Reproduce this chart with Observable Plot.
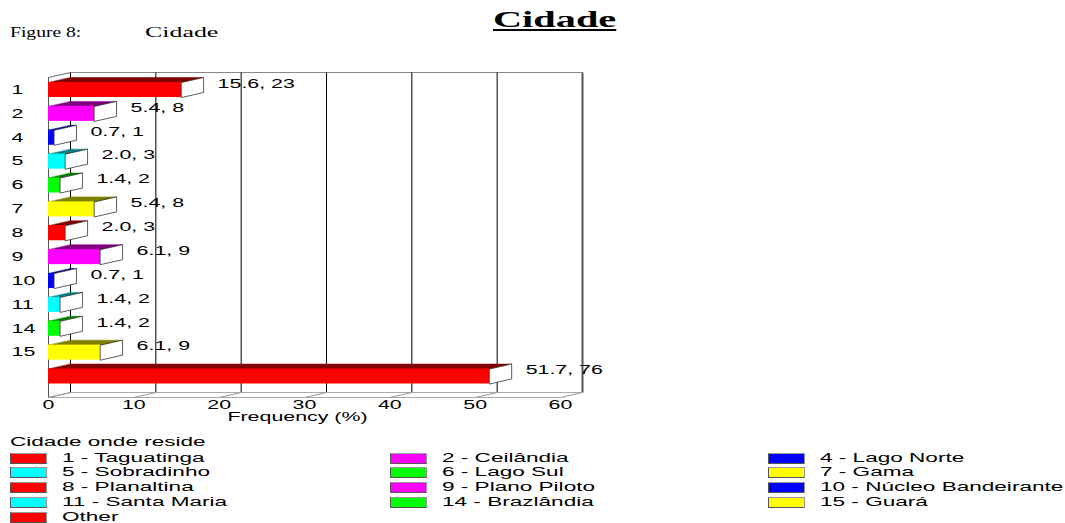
<!DOCTYPE html>
<html><head><meta charset="utf-8">
<script src="https://cdn.jsdelivr.net/npm/d3@7"></script>
<script src="https://cdn.jsdelivr.net/npm/@observablehq/plot@0.6"></script>
<style>
body{margin:0;background:#fff;}
#wrap{position:relative;width:1065px;height:523px;overflow:hidden;font-family:"Liberation Sans",Arial,sans-serif;color:#000;}
.abs{position:absolute;white-space:nowrap;}
.st{display:inline-block;transform-origin:0 50%;line-height:inherit;vertical-align:top;}
.sw{position:absolute;width:37px;height:11px;box-sizing:border-box;border:1px solid #555;border-top-color:#999;border-right-color:#999;}
#chart{position:absolute;left:0;top:40px;}
</style></head><body><div id="wrap"></div>
<script>
// ---- data ----
const categories = ["1","2","4","5","6","7","8","9","10","11","14","15","Other"];
const axisLabels = ["1","2","4","5","6","7","8","9","10","11","14","15",""];
const legendNames = ["1 - Taguatinga","2 - Ceilândia","4 - Lago Norte","5 - Sobradinho","6 - Lago Sul","7 - Gama","8 - Planaltina","9 - Plano Piloto","10 - Núcleo Bandeirante","11 - Santa Maria","14 - Brazlândia","15 - Guará","Other"];
const percents = [15.6,5.4,0.7,2.0,1.4,5.4,2.0,6.1,0.7,1.4,1.4,6.1,51.7];
const counts = [23,8,1,3,2,8,3,9,1,2,2,9,76];
const frontColors = ["#ff0000","#ff00ff","#0000ff","#00ffff","#00ff00","#ffff00","#ff0000","#ff00ff","#0000ff","#00ffff","#00ff00","#ffff00","#ff0000"];
const topColors = ["#800000","#800080","#000080","#008080","#008000","#808000","#800000","#800080","#000080","#008080","#008000","#808000","#800000"];
const xTicks = [0,10,20,30,40,50,60];
const xLabel = "Frequency (%)";
const titleText = "Cidade";
const figureLabel = "Figure 8:";
const legendTitle = "Cidade onde reside";

// ---- layout ----
const W = 1065, H = 390;
const mL = 48, mR = 505, mT = 49.5, mB = 54;
const ppx = (W - mL - mR) / 60;
const ppy = (H - mT - mB) / (categories.length - 1);
const DX = 22 / ppx, DY = -5 / ppy, H2 = 7.5 / ppy;
const fT = -12.5 / ppy, fB = 307.5 / ppy; // frame top / bottom (front) in y units
const idx = categories.map((_, i) => i);
const xMax = xTicks[xTicks.length - 1];

const segs = [];
segs.push({x1: DX, y1: fT + DY, x2: xMax + DX, y2: fT + DY, s: "#888", w: 1});
xTicks.forEach(t => segs.push({x1: t + DX, y1: fT + DY, x2: t + DX, y2: fB + DY, s: t === xMax ? "#555" : "#000", w: t === xMax ? 2 : 1}));
segs.push({x1: 0, y1: fT, x2: DX, y2: fT + DY, s: "#666", w: 1});
segs.push({x1: 0, y1: fT, x2: 0, y2: fB, s: "#555", w: 1});
segs.push({x1: 0, y1: fB, x2: DX, y2: fB + DY, s: "#999", w: 1});
segs.push({x1: DX, y1: fB + DY, x2: xMax + DX, y2: fB + DY, s: "#aaa", w: 1});
segs.push({x1: 0, y1: fB, x2: xMax, y2: fB, s: "#aaa", w: 1});
xTicks.forEach(t => segs.push({x1: t, y1: fB, x2: t + DX, y2: fB + DY, s: "#999", w: 1}));

const topFaces = [], sideFaces = [];
idx.forEach(i => {
  const v = percents[i], y0 = i - H2, y1 = i + H2;
  [[0, y0], [v, y0], [v + DX, y0 + DY], [DX, y0 + DY]].forEach(([x, y]) => topFaces.push({i, x, y}));
  [[v, y0], [v + DX, y0 + DY], [v + DX, y1 + DY], [v, y1]].forEach(([x, y]) => sideFaces.push({i, x, y}));
});

const plot = Plot.plot({
  width: W, height: H,
  marginLeft: mL, marginRight: mR, marginTop: mT, marginBottom: mB,
  style: {fontFamily: "'Liberation Sans', Arial, sans-serif", fontSize: "12px", color: "#000", background: "transparent", overflow: "visible"},
  x: {domain: [0, xMax], axis: null},
  y: {domain: [0, categories.length - 1], reverse: true, axis: null},
  color: {type: "identity"},
  marks: [
    Plot.rect([0], {x1: DX, x2: xMax + DX, y1: fT + DY, y2: fB + DY, fill: "#fff"}),
    Plot.link(segs, {x1: "x1", y1: "y1", x2: "x2", y2: "y2", stroke: "s", strokeWidth: "w"}),
    Plot.line(topFaces, {x: "x", y: "y", z: "i", fill: d => topColors[d.i], stroke: d => topColors[d.i], strokeWidth: 0.5, curve: "linear-closed"}),
    Plot.rect(idx, {x1: 0, x2: i => percents[i], y1: i => i - H2, y2: i => i + H2, fill: i => frontColors[i]}),
    Plot.line(sideFaces, {x: "x", y: "y", z: "i", fill: "#fff", stroke: "#333", strokeWidth: 0.8, curve: "linear-closed"}),
    Plot.text(idx, {x: i => percents[i] + DX, y: i => i, text: i => `${percents[i].toFixed(1)}, ${counts[i]}`, dx: 14, dy: -6, textAnchor: "start", fontSize: 12, fill: "#000"}),
    Plot.text(idx, {y: i => i, text: i => axisLabels[i], frameAnchor: "left", dx: -37, textAnchor: "start", fontSize: 12, fill: "#000"}),
    Plot.text(xTicks, {x: d => d, text: d => String(d), frameAnchor: "bottom", dy: 29, lineAnchor: "middle", fontSize: 12, fill: "#000"}),
    Plot.text([xLabel], {text: d => d, frameAnchor: "bottom", dx: -7, dy: 41, lineAnchor: "middle", fontSize: 12, fill: "#000"})
  ]
});

const wrap = document.getElementById("wrap");
plot.id = "chart";
wrap.appendChild(plot);
plot.querySelectorAll("text").forEach(t => {
  const len = t.getComputedTextLength();
  if (len > 0) { t.setAttribute("textLength", (len * 1.78).toFixed(1)); t.setAttribute("lengthAdjust", "spacingAndGlyphs"); }
});

function addText(txt, left, cy, opts) {
  const d = document.createElement("div");
  d.className = "abs";
  d.style.left = left + "px";
  const lh = opts.lh || 12;
  d.style.lineHeight = lh + "px"; d.style.height = lh + "px";
  d.style.top = (cy - lh / 2) + "px";
  const s = document.createElement("span");
  s.className = "st";
  s.textContent = txt;
  s.style.fontSize = (opts.size || 12) + "px";
  if (opts.family) s.style.fontFamily = opts.family;
  if (opts.weight) s.style.fontWeight = opts.weight;
  if (opts.underline) s.style.textDecoration = "underline";
  s.style.transform = `scaleX(${opts.scale || 1.88})`;
  d.appendChild(s);
  wrap.appendChild(d);
}
const serif = "'Liberation Serif', 'Times New Roman', serif";
addText(titleText, 493, 19, {size: 24, family: serif, weight: "bold", underline: true, scale: 1.68, lh: 28});
addText(figureLabel, 10, 33, {size: 14, family: serif, scale: 1.4, lh: 16});
addText(titleText, 145, 33, {size: 14, family: serif, scale: 1.85, lh: 16});
addText(legendTitle, 10, 442, {});
const colSw = [10, 390, 768], colTx = [62, 442, 820];
legendNames.forEach((name, k) => {
  const r = Math.floor(k / 3), c = k % 3, cy = 457.5 + r * 14.8;
  const sw = document.createElement("div");
  sw.className = "sw";
  sw.style.left = colSw[c] + "px"; sw.style.top = (cy - 5) + "px";
  sw.style.background = frontColors[k];
  wrap.appendChild(sw);
  addText(name, colTx[c], cy, {});
});
</script></body></html>
